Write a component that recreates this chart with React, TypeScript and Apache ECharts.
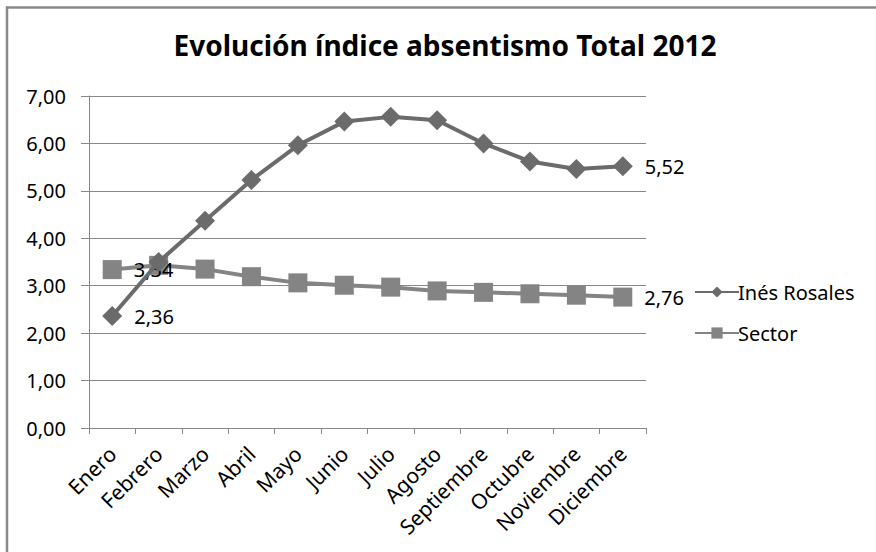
import React, { useEffect, useRef } from "react";
import * as echarts from "echarts";

const months = ["Enero", "Febrero", "Marzo", "Abril", "Mayo", "Junio", "Julio", "Agosto", "Septiembre", "Octubre", "Noviembre", "Diciembre"];
const inesRosales = [2.36, 3.5, 4.37, 5.23, 5.96, 6.46, 6.56, 6.49, 6.0, 5.62, 5.46, 5.52];
const sector = [3.34, 3.43, 3.35, 3.19, 3.06, 3.01, 2.97, 2.89, 2.86, 2.83, 2.8, 2.76];
const titleText = "Evolución índice absentismo Total 2012";
const FONT = "Noto Sans";

const fmt = (v: number) => v.toFixed(2).replace(".", ",");

export default function App() {
  const ref = useRef<HTMLDivElement>(null);
  useEffect(() => {
    if (!ref.current) return;
    const chart = echarts.init(ref.current, undefined, { renderer: "svg" });
    const mk = (vals: number[]) =>
      vals.map((v, i) => ({ value: v, label: { show: i === 0 || i === vals.length - 1 } }));
    chart.setOption({
      animation: false,
      backgroundColor: "#ffffff",
      textStyle: { fontFamily: FONT },
      title: {
        text: titleText,
        left: 440,
        textAlign: "center",
        top: 26,
        textStyle: { fontFamily: FONT, fontWeight: "bold", fontSize: 28, color: "#000" },
      },
      graphic: [
        {
          type: "line",
          shape: { x1: 6, y1: 7.5, x2: 876, y2: 7.5 },
          style: { stroke: "#8a8a8a", lineWidth: 2.5 },
          silent: true,
        },
        {
          type: "line",
          shape: { x1: 7, y1: 6.5, x2: 7, y2: 552 },
          style: { stroke: "#8a8a8a", lineWidth: 2.5 },
          silent: true,
        },
      ],
      legend: {
        orient: "vertical",
        left: 689,
        top: 277,
        itemWidth: 44,
        itemHeight: 14,
        itemGap: 21,
        data: ["Inés Rosales", "Sector"],
        textStyle: { fontFamily: FONT, fontSize: 20, color: "#000", padding: [0, 0, 0, -6] },
      },
      grid: { left: 89, right: 230, top: 96, bottom: 124, containLabel: false },
      xAxis: {
        type: "category",
        data: months,
        boundaryGap: true,
        axisLine: { lineStyle: { color: "#888", width: 1 } },
        axisTick: { show: true, length: 6, lineStyle: { color: "#888" } },
        axisLabel: { rotate: 45, margin: 22, fontSize: 21, color: "#000", fontFamily: FONT, interval: 0 },
      },
      yAxis: {
        type: "value",
        min: 0,
        max: 7,
        interval: 1,
        axisLine: { show: true, lineStyle: { color: "#888", width: 1 } },
        axisTick: { show: true, length: 8, lineStyle: { color: "#888" } },
        splitLine: { lineStyle: { color: "#888", width: 1 } },
        axisLabel: { formatter: fmt, fontSize: 20, color: "#000", fontFamily: FONT, margin: 23 },
      },
      series: [
        {
          name: "Sector",
          type: "line",
          data: mk(sector),
          symbol: "rect",
          symbolSize: 19,
          lineStyle: { color: "#848484", width: 4 },
          itemStyle: { color: "#848484" },
          label: { position: "right", distance: 12, formatter: (p: any) => fmt(p.value), fontSize: 20, color: "#000", fontFamily: FONT },
          z: 2,
        },
        {
          name: "Inés Rosales",
          type: "line",
          data: mk(inesRosales),
          symbol: "diamond",
          symbolSize: 20,
          lineStyle: { color: "#6b6b6b", width: 4 },
          itemStyle: { color: "#6b6b6b" },
          label: { position: "right", distance: 12, formatter: (p: any) => fmt(p.value), fontSize: 20, color: "#000", fontFamily: FONT },
          z: 3,
        },
      ],
    });
    return () => chart.dispose();
  }, []);
  return <div ref={ref} style={{ position: "fixed", left: 0, top: 0, width: 876, height: 552 }} />;
}
